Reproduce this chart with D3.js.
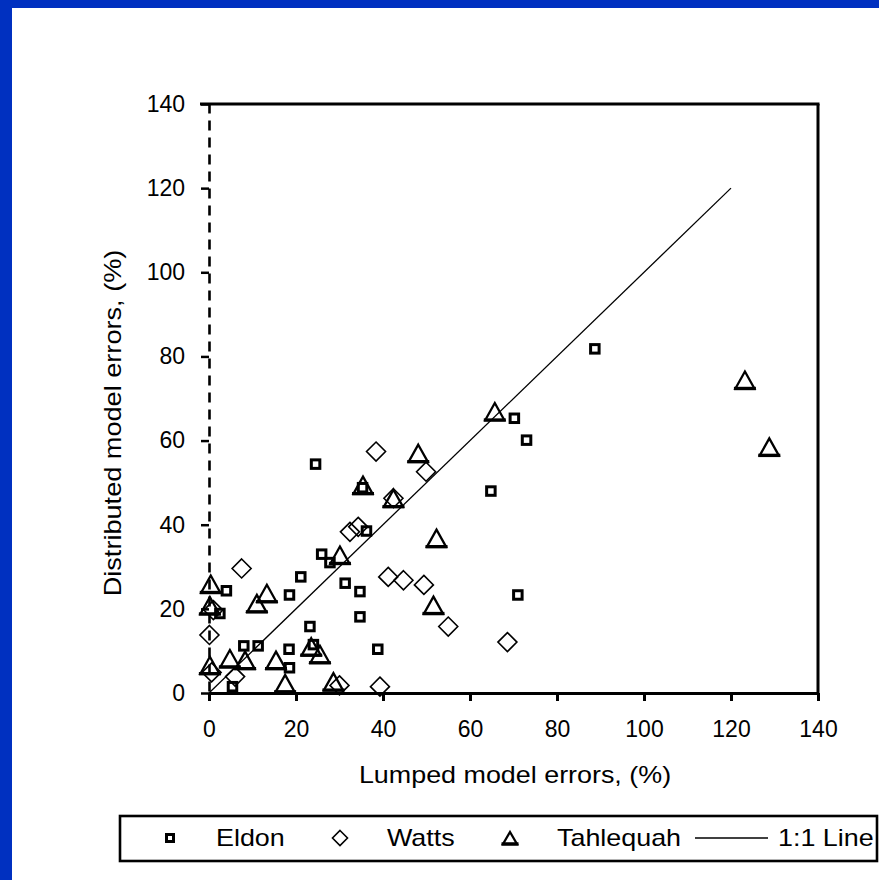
<!DOCTYPE html>
<html><head><meta charset="utf-8">
<script src="https://cdn.jsdelivr.net/npm/d3@7/dist/d3.min.js"></script>
<style>
html,body{margin:0;padding:0;background:#fff;}
svg{display:block;}
text{font-family:"Liberation Sans",Arial,sans-serif;fill:#000;}
</style></head>
<body>
<svg id="c" width="879" height="880"></svg>
<script>
// ---- data ----
const xTicks = [0, 20, 40, 60, 80, 100, 120, 140];
const yTicks = [0, 20, 40, 60, 80, 100, 120, 140];
const xTitle = "Lumped model errors, (%)";
const yTitle = "Distributed model errors, (%)";
const seriesNames = ["Eldon", "Watts", "Tahlequah", "1:1 Line"];

const eldon = [
  [88.7,81.8],[70.2,65.3],[73.0,60.1],[64.8,48.0],[71.0,23.3],[24.5,54.4],
  [25.9,33.0],[27.8,31.0],[36.2,38.5],[35.3,48.8],[21.1,27.6],[31.3,26.1],
  [34.7,24.1],[18.5,23.3],[34.7,18.1],[23.2,15.8],[38.8,10.4],[8.0,11.2],
  [11.3,11.2],[18.4,10.4],[18.5,6.0],[24.0,11.5],[4.0,24.3],[2.5,18.9],[5.4,1.5]
];
const watts = [
  [38.4,57.4],[49.9,52.6],[42.4,46.3],[32.4,38.3],[34.3,39.5],[41.2,27.6],
  [44.7,26.8],[49.4,25.7],[55.0,15.8],[68.6,12.1],[39.3,1.5],[7.5,29.6],
  [0.1,13.8],[0.6,4.9],[6.0,3.9],[30.0,1.8],[1.0,19.7]
];
const tahlequah = [
  [123.2,74.4],[128.8,58.5],[65.7,66.9],[48.1,57.0],[35.4,49.4],[42.4,46.3],
  [52.3,36.8],[30.1,32.8],[51.6,20.9],[13.3,23.7],[11.0,21.3],[0.4,25.9],
  [0.2,20.8],[4.8,8.2],[8.3,7.8],[15.4,7.8],[17.5,2.3],[23.5,11.0],
  [25.5,9.2],[28.6,2.7],[0.2,6.6]
];
const oneToOne = [[0,0],[120,120]];

// ---- drawing ----
const svg = d3.select("#c");
svg.append("rect").attr("width",879).attr("height",880).attr("fill","#0030c0");
svg.append("rect").attr("x",12).attr("y",8).attr("width",867).attr("height",872).attr("fill","#fff");

const x = d3.scaleLinear().domain([0,140]).range([209,818]);
const y = d3.scaleLinear().domain([0,140]).range([693,104]);

function stretch(sel, k){
  sel.each(function(){
    const L = this.getComputedTextLength();
    d3.select(this).attr("textLength", L*k).attr("lengthAdjust","spacingAndGlyphs");
  });
}

// x axis
const gx = svg.append("g").attr("transform",`translate(0,${y(0)})`)
  .call(d3.axisBottom(x).tickValues(xTicks).tickSize(8).tickSizeOuter(0).tickPadding(20).tickFormat(d3.format("d")));
gx.select(".domain").attr("stroke","#000").attr("stroke-width",3);
gx.selectAll(".tick line").attr("stroke","#000").attr("stroke-width",3);
gx.selectAll(".tick text").attr("font-size",23).attr("font-family","Liberation Sans, Arial, sans-serif");

// y axis
const gy = svg.append("g").attr("transform",`translate(${x(0)},0)`)
  .call(d3.axisLeft(y).tickValues(yTicks).tickSize(8).tickSizeOuter(0).tickPadding(16).tickFormat(d3.format("d")));
gy.select(".domain").attr("stroke","#000").attr("stroke-width",2.6).attr("stroke-dasharray","10,7")
  .attr("stroke-dashoffset",-2);
gy.selectAll(".tick line").attr("stroke","#000").attr("stroke-width",2.5);
gy.selectAll(".tick text").attr("font-size",23).attr("font-family","Liberation Sans, Arial, sans-serif");

// frame top + right
svg.append("line").attr("x1",x(0)-9).attr("x2",x(140)+1.5).attr("y1",y(140)).attr("y2",y(140))
  .attr("stroke","#000").attr("stroke-width",3);
svg.append("line").attr("x1",x(140)).attr("x2",x(140)).attr("y1",y(140)).attr("y2",y(0))
  .attr("stroke","#000").attr("stroke-width",3);

// 1:1 line
svg.append("path").datum(oneToOne)
  .attr("d", d3.line().x(d=>x(d[0])).y(d=>y(d[1])))
  .attr("fill","none").attr("stroke","#000").attr("stroke-width",1.3);

// symbols
function sq(g, cx, cy, s){
  g.append("rect").attr("x",cx-s/2).attr("y",cy-s/2).attr("width",s).attr("height",s)
    .attr("fill","none").attr("stroke","#000").attr("stroke-width",3);
}
function dia(g, cx, cy, r){
  g.append("path").attr("d",`M${cx},${cy-r}L${cx+r},${cy}L${cx},${cy+r}L${cx-r},${cy}Z`)
    .attr("fill","none").attr("stroke","#000").attr("stroke-width",1.6);
}
function tri(g, cx, cy, w, h){
  g.append("path").attr("d",`M${cx},${cy-h/2}L${cx+w/2},${cy+h/2}L${cx-w/2},${cy+h/2}Z`)
    .attr("fill","none").attr("stroke","#000").attr("stroke-width",2.3).attr("stroke-linejoin","miter");
  g.append("line").attr("x1",cx-w/2-1.5).attr("x2",cx+w/2+1.5).attr("y1",cy+h/2).attr("y2",cy+h/2)
    .attr("stroke","#000").attr("stroke-width",3.4);
}

const gp = svg.append("g");
watts.forEach(d=>dia(gp, x(d[0]), y(d[1]), 9.5));
tahlequah.forEach(d=>tri(gp, x(d[0]), y(d[1]), 19, 17));
eldon.forEach(d=>sq(gp, x(d[0]), y(d[1]), 8.5));

// axis titles
svg.append("text").attr("x",515).attr("y",783).attr("text-anchor","middle")
  .attr("font-size",24).text(xTitle).call(stretch,1.12);
svg.append("text").attr("transform","translate(121,423) rotate(-90)").attr("text-anchor","middle")
  .attr("font-size",24).text(yTitle).call(stretch,1.13);

// legend
const lg = svg.append("g");
lg.append("rect").attr("x",120).attr("y",816).attr("width",757).attr("height",45)
  .attr("fill","#fff").attr("stroke","#000").attr("stroke-width",2.6);
const ly = 838;
sq(lg, 170, ly, 7);
dia(lg, 340, ly, 7.5);
tri(lg, 510, ly, 14, 12);
lg.append("line").attr("x1",695).attr("x2",768).attr("y1",ly).attr("y2",ly).attr("stroke","#000").attr("stroke-width",1.6);
const lx = [216, 387, 557, 778];
const lt = lg.selectAll("text.lt").data(seriesNames).join("text").attr("class","lt")
  .attr("x",(d,i)=>lx[i]).attr("y",846).attr("font-size",24).text(d=>d);
lt.call(stretch,1.12);
</script>
</body></html>
